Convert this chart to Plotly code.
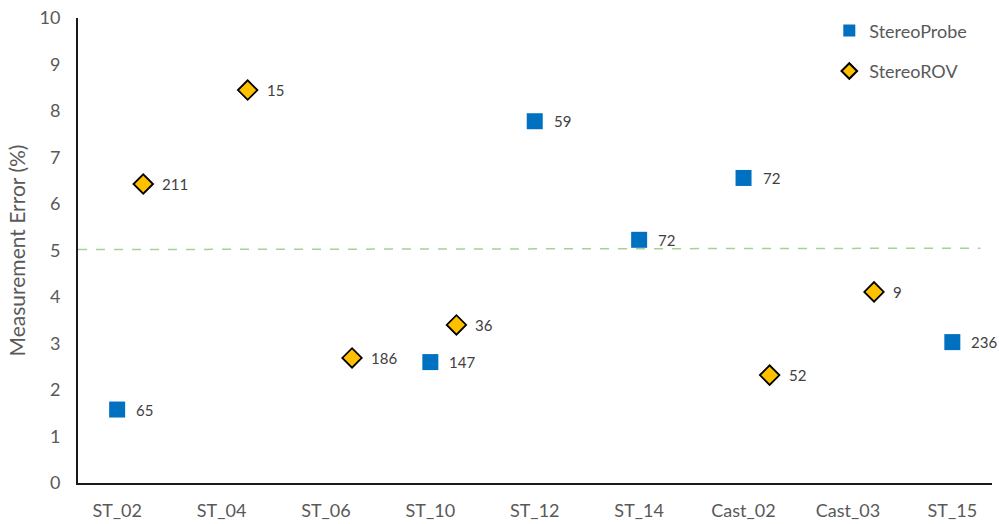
import plotly.graph_objects as go

categories = ["ST_02", "ST_04", "ST_06", "ST_10", "ST_12", "ST_14", "Cast_02", "Cast_03", "ST_15"]

probe_cats = ["ST_02", "ST_10", "ST_12", "ST_14", "Cast_02", "ST_15"]
probe_vals = [1.58, 2.60, 7.78, 5.23, 6.56, 3.03]
probe_labels = ["65", "147", "59", "72", "72", "236"]

rov_cats = ["ST_02", "ST_04", "ST_06", "ST_10", "Cast_02", "Cast_03"]
rov_vals = [6.43, 8.45, 2.69, 3.40, 2.32, 4.11]
rov_labels = ["211", "15", "186", "36", "52", "9"]

threshold_vals = [5.02, 5.05]

ROV_OFFSET = 0.25
idx = {c: i for i, c in enumerate(categories)}
x_probe = [idx[c] for c in probe_cats]
x_rov = [idx[c] + ROV_OFFSET for c in rov_cats]

FONT = "Lato, 'Open Sans', sans-serif"
GRAY = "#595959"

fig = go.Figure()

fig.add_trace(go.Scatter(
    x=[-0.375, 8.27], y=threshold_vals, mode="lines",
    line=dict(color="#a9d18e", width=1.5, dash="dash"),
    showlegend=False, hoverinfo="skip"))

fig.add_trace(go.Scatter(
    x=x_probe, y=probe_vals, mode="markers", name="StereoProbe",
    legendgroup="a",
    marker=dict(symbol="square", size=16, color="#0070c0", line=dict(width=0))))

fig.add_trace(go.Scatter(
    x=x_rov, y=rov_vals, mode="markers", name="StereoROV",
    legendgroup="b",
    marker=dict(symbol="diamond", size=15, color="#ffc000", line=dict(width=1.8, color="#000000"))))

for xs, ys, ts in ((x_probe, probe_vals, probe_labels), (x_rov, rov_vals, rov_labels)):
    for xv, yv, tv in zip(xs, ys, ts):
        fig.add_annotation(x=xv, y=yv, text=tv, showarrow=False, xanchor="left",
                           yanchor="middle", xshift=17,
                           font=dict(family=FONT, size=15, color="#404040"))

fig.update_layout(
    width=999, height=524,
    margin=dict(l=78, r=7, t=18, b=41),
    paper_bgcolor="white", plot_bgcolor="white",
    font=dict(family=FONT, color=GRAY),
    legend=dict(x=0.822, y=1.012, xanchor="left", yanchor="top",
                font=dict(size=18, color=GRAY), bgcolor="rgba(0,0,0,0)",
                tracegroupgap=14, traceorder="grouped", itemsizing="constant",
                itemwidth=30),
    xaxis=dict(range=[-0.375, 8.38], tickmode="array",
               tickvals=list(range(len(categories))), ticktext=categories,
               showgrid=False, zeroline=False, showline=True, linecolor="#1a1a1a",
               linewidth=2, ticks="", tickfont=dict(size=18, color=GRAY),
               ticklabelstandoff=10, automargin=False),
    yaxis=dict(range=[0, 10], dtick=1, showgrid=False, zeroline=False,
               showline=True, linecolor="#1a1a1a", linewidth=2, ticks="",
               tickfont=dict(size=18, color=GRAY), ticklabelstandoff=12,
               automargin=False,
               title=dict(text="Measurement Error (%)", font=dict(size=21, color=GRAY), standoff=8)),
)

fig.write_html("out.html")
